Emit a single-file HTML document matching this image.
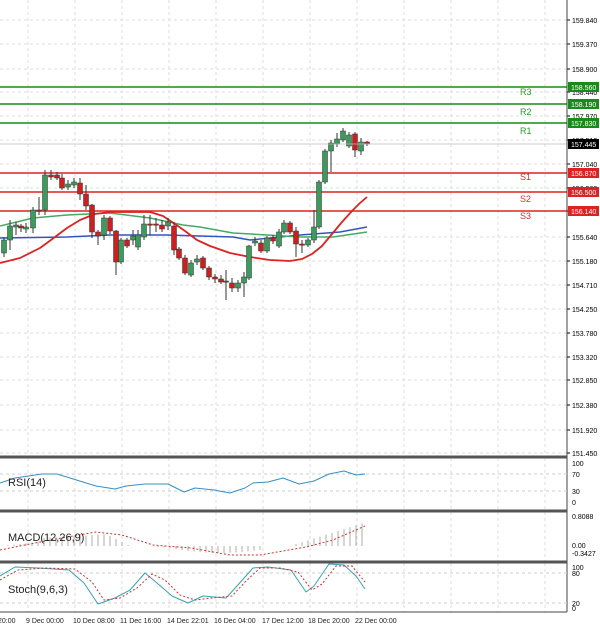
<!DOCTYPE html>
<html><head><meta charset="utf-8"><style>
html,body{margin:0;padding:0;background:#fff;}
svg{display:block;font-family:"Liberation Sans",sans-serif;}
</style></head><body>
<svg id="s" width="600" height="629" xmlns="http://www.w3.org/2000/svg"></svg>
<script>
const S=document.getElementById('s');let h='';
const L=(x1,y1,x2,y2,c,w,d)=>h+=`<line x1="${x1}" y1="${y1}" x2="${x2}" y2="${y2}" stroke="${c}" stroke-width="${w||1}" ${d?`stroke-dasharray="${d}"`:''}/>`;
const T=(x,y,t,s,c,a)=>h+=`<text x="${x}" y="${y}" font-size="${s}" fill="${c||'#000'}" ${a?`text-anchor="${a}"`:''}>${t}</text>`;
const P=(pts,c,w,d)=>h+=`<polyline points="${pts.map(p=>p.join(',')).join(' ')}" fill="none" stroke="${c}" stroke-width="${w}" stroke-linejoin="round" ${d?`stroke-dasharray="${d}"`:''}/>`;
const vx=[];for(let x=545;x>0;x-=47)vx.push(x);
const panels=[[0,456],[458,510],[512,561],[563,612]];
panels.forEach(p=>vx.forEach(x=>L(x,p[0],x,p[1],'#ddd',1,'3,3')));
const lab=[[20,'159.840'],[44,'159.370'],[69,'158.900'],[92,'158.440'],[116,'157.970'],[140,'157.510'],[164,'157.040'],[188,'156.580'],[211,'156.110'],[237,'155.640'],[261,'155.180'],[285,'154.710'],[309,'154.250'],[333,'153.780'],[357,'153.320'],[380,'152.850'],[405,'152.380'],[430,'151.920'],[453,'151.450']];
lab.forEach(l=>{L(0,l[0],567,l[0],'#ddd',1,'3,3');L(567,l[0],570,l[0],'#000');T(572,l[0]+3,l[1],7,'#000');});
P([[0,238],[67,237],[110,235],[167,235],[233,237],[250,240],[300,235],[340,232],[367,227]],'#3355bb',1.5);
P([[0,226],[33,218],[67,215],[110,213],[150,218],[183,225],[200,227],[233,233],[267,235],[300,237],[333,237],[367,232]],'#44aa66',1.5);
P([[0,263],[20,258],[40,248],[55,237],[67,228],[80,220],[95,214],[110,212],[150,212],[163,216],[175,224],[185,231],[197,240],[210,246],[230,253],[250,257],[270,260],[290,261],[302,259],[312,254],[322,246],[332,234],[342,222],[352,211],[360,203],[367,197]],'#dd2222',1.8);
[[87,'#1a8a1a'],[104,'#1a8a1a'],[123,'#1a8a1a'],[173,'#dd2222'],[192,'#dd2222'],[211,'#dd2222']].forEach(l=>L(0,l[0],567,l[0],l[1],1.6));
[['R3',95],['R2',115],['R1',134]].forEach(r=>T(520,r[1],r[0],9,'#2a9a2a'));
[['S1',180],['S2',202],['S3',219]].forEach(r=>T(520,r[1],r[0],9,'#cc3333'));
const C=[[4,253,240,257,237],[10,240,226,250,220],[16,227,225,235,222],[21,226,228,232,224],[26,229,227,233,223],[33,228,210,233,207],[39,210,211,215,197],[45,210,175,215,170],[51,175,177,180,170],[57,175,178,180,172],[62,178,188,190,174],[68,187,184,190,180],[74,185,182,188,178],[80,183,194,200,178],[86,194,206,210,185],[92,205,232,238,204],[98,232,236,245,230],[104,235,218,240,215],[110,218,231,234,216],[116,231,262,275,230],[121,262,240,264,238],[127,240,246,248,238],[133,240,236,245,230],[138,247,235,250,230],[144,237,224,240,215],[150,224,225,235,215],[156,224,225,232,218],[162,225,229,232,220],[168,226,222,230,218],[174,226,250,255,222],[179,249,258,260,247],[185,258,273,275,255],[191,275,263,277,260],[197,262,259,265,255],[203,258,268,270,256],[209,268,277,280,266],[215,277,279,283,274],[221,279,282,284,275],[226,281,282,300,270],[232,283,288,292,278],[238,288,283,292,280],[244,283,277,297,272],[249,278,246,280,245],[255,243,241,246,237],[261,243,251,253,240],[267,251,238,253,236],[273,238,241,244,235],[279,246,232,248,229],[284,232,223,234,220],[290,223,232,234,221],[296,231,244,257,227],[302,244,245,253,240],[308,245,240,247,238],[314,240,227,243,210],[319,227,182,229,180],[325,182,151,184,149],[331,151,143,172,140],[337,144,139,147,133],[343,140,131,142,128],[349,146,135,148,132],[355,134,150,157,132],[361,151,142,155,138],[367,142,144,146,141]];
C.forEach(c=>{const[x,o,cl,hi,lo]=c;const up=cl<o;const col=up?'#3c9a5c':'#cc2020';L(x,hi,x,lo,'#333',1);const t=Math.min(o,cl),b=Math.max(o,cl);h+=`<rect x="${x-2.5}" y="${t}" width="5" height="${Math.max(b-t,1.2)}" fill="${col}" stroke="#333" stroke-width="0.5"/>`;});
L(0,144,567,144,'#bbb',0.8);
const B=[[87,'158.560','#1a8a1a'],[104,'158.190','#1a8a1a'],[123,'157.830','#1a8a1a'],[144,'157.445','#000'],[173,'156.870','#dd2222'],[192,'156.500','#dd2222'],[211,'156.140','#dd2222']];
B.forEach(b=>{h+=`<rect x="568" y="${b[0]-5}" width="31" height="10" fill="${b[2]}"/>`;T(571,b[0]+3,b[1],7,'#fff');});
L(567,0,567,612,'#444',1);
[457,511,562].forEach(y=>h+=`<rect x="0" y="${y-1.5}" width="567" height="3" fill="#555"/>`);
L(0,612,567,612,'#444',1);
[[474,'#ccc'],[491,'#ccc']].forEach(g=>L(0,g[0],567,g[0],g[1],1,'3,3'));
P([[0,483],[15,478],[42,474],[57,474],[96,486],[115,489],[126,486],[145,484],[168,484],[184,492],[195,488],[214,490],[230,493],[245,488],[253,483],[268,482],[283,478],[299,484],[314,481],[329,474],[344,471],[356,475],[365,474]],'#3a8fc0',1);
T(8,486,'RSI(14)',11,'#222');
[[463,'100'],[474,'70'],[491,'30'],[502,'0']].forEach(l=>T(572,l[0]+3,l[1],7));
const z=546;
for(let x=2;x<=367;x+=6){let v;if(x<40)v=(x/40)*4;else if(x<110)v=8+(x-40)/70*4;else if(x<130)v=10-(x-110)/2;else if(x<150)v=0;else if(x<175)v=-(x-150)/25*3;else if(x<265)v=-3-Math.sin((x-175)/90*Math.PI)*4;else if(x<290)v=0;else v=((x-290)/77)*24;L(x,z,x,z-v,'#999',0.8);}
P([[0,550],[50,540],[96,532],[122,535],[153,545],[191,548],[230,555],[260,555],[306,547],[333,540],[365,526]],'#cc3333',1,'2,2');
T(8,541,'MACD(12,26,9)',11,'#222');
[[516,'0.8088'],[545,'0.00'],[553,'-0.3427']].forEach(l=>T(572,l[0]+3,l[1],7));
L(0,573,567,573,'#ccc',1,'3,3');L(0,603,567,603,'#ccc',1,'3,3');
P([[0,576],[15,567],[38,568],[69,570],[84,583],[98,604],[115,598],[130,590],[145,573],[157,583],[172,596],[188,603],[203,596],[226,598],[237,586],[253,568],[268,567],[291,570],[306,592],[314,586],[329,564],[344,565],[356,576],[365,589]],'#3aa0b0',1);
P([[0,580],[18,570],[45,568],[75,569],[92,582],[104,600],[120,598],[137,588],[152,574],[165,580],[180,595],[195,600],[212,598],[232,596],[245,582],[260,568],[280,568],[298,572],[312,590],[322,584],[336,566],[352,566],[365,582]],'#cc3333',1,'2,2');
T(8,593,'Stoch(9,6,3)',11,'#222');
[[567,'100'],[573,'80'],[603,'20'],[608,'0']].forEach(l=>T(572,l[0]+3,l[1],7));
[[-2,'20:00'],[26,'9 Dec 00:00'],[73,'10 Dec 08:00'],[120,'11 Dec 16:00'],[167,'14 Dec 22:01'],[214,'16 Dec 04:00'],[262,'17 Dec 12:00'],[308,'18 Dec 20:00'],[355,'22 Dec 00:00']].forEach(l=>T(l[0],623,l[1],7,'#222'));
S.innerHTML=h;
</script>
</body></html>
